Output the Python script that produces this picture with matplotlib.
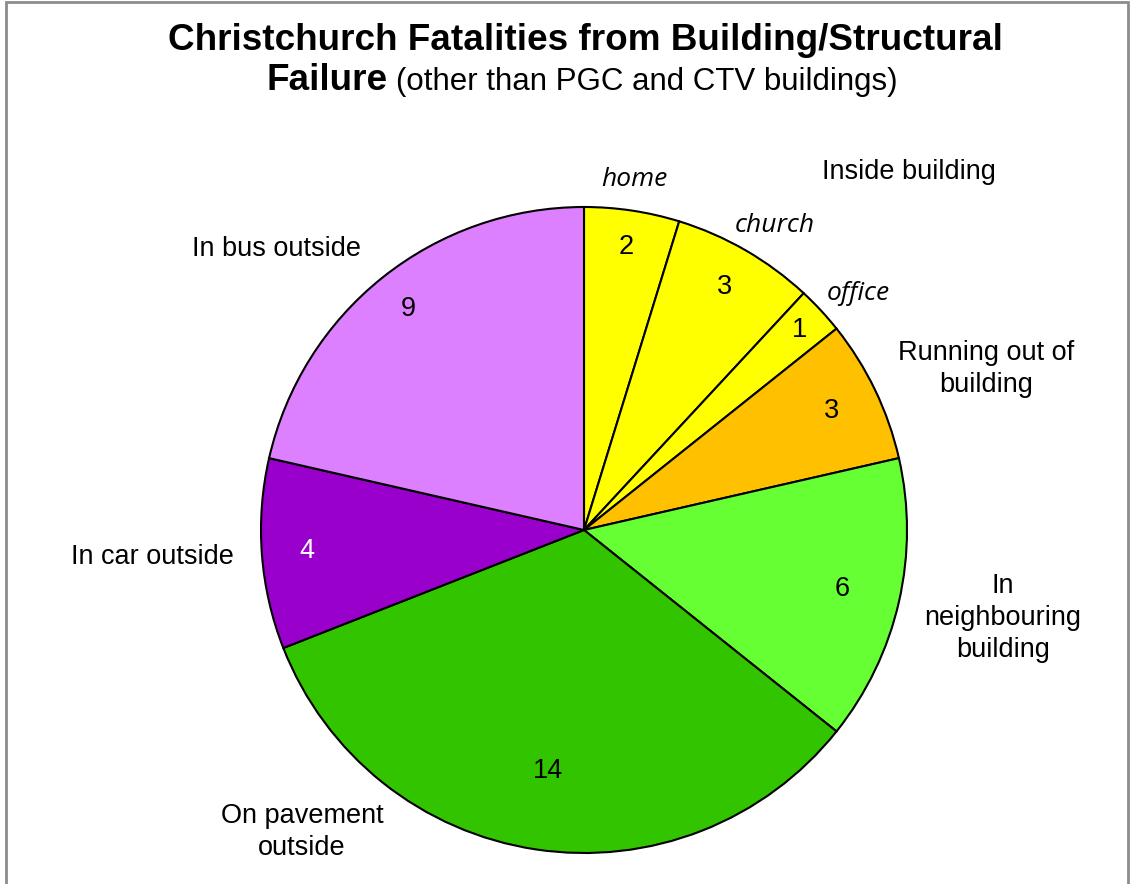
import numpy as np
import matplotlib.pyplot as plt
from matplotlib.patches import Rectangle

# fatalities by location
categories = ["home", "church", "office", "Running out of\nbuilding",
              "In\nneighbouring\nbuilding", "On pavement\noutside",
              "In car outside", "In bus outside"]
values = [2, 3, 1, 3, 6, 14, 4, 9]
colors = ["#FFFF00", "#FFFF00", "#FFFF00", "#FFC000",
          "#66FF33", "#33C400", "#9900CC", "#DD80FF"]
number_colors = ["black"] * 6 + ["white", "black"]
number_dist = [0.885, 0.87, 0.91, 0.85, 0.82, 0.755, 0.86, 0.875]

plt.rcParams["font.family"] = ["Liberation Sans", "DejaVu Sans"]

W, H = 1135, 884
fig = plt.figure(figsize=(W / 100, H / 100), dpi=100)
ax = fig.add_axes([0, 0, 1, 1])

# frame
ax.add_patch(Rectangle((6, -10), 1122, H - 2 + 10, fill=False,
                       edgecolor="#8c8c8c", linewidth=2))

cx, cy, r = 584, H - 530, 323
wedges, _ = ax.pie(values, colors=colors, startangle=90, counterclock=False,
                   center=(cx, cy), radius=r, frame=True,
                   wedgeprops=dict(edgecolor="black", linewidth=1.5))
ax.set_xlim(0, W)
ax.set_ylim(0, H)
ax.set_aspect("auto")
ax.axis("off")

# value labels at the middle of each wedge
for w, v, d, c in zip(wedges, values, number_dist, number_colors):
    ang = np.deg2rad((w.theta1 + w.theta2) / 2)
    ax.text(cx + d * r * np.cos(ang), cy + d * r * np.sin(ang), str(v),
            ha="center", va="center", fontsize=19.5, color=c)

# category labels
italic = dict(fontsize=19, style="italic", family=["Open Sans", "DejaVu Sans"],
              ha="center", va="center")
normal = dict(fontsize=19.5, ha="center", va="center", linespacing=1.28)
ax.text(634, H - 180, categories[0], **italic)
ax.text(775, H - 226, categories[1], **italic)
ax.text(858, H - 293, categories[2], **italic)
ax.text(909, H - 172, "Inside building", **normal)
ax.text(986, H - 369, categories[3], **normal)
ax.text(1003, H - 618, categories[4], **normal)
ax.text(302, H - 832, categories[5], **normal)
ax.text(152, H - 557, categories[6], **normal)
ax.text(277, H - 249, categories[7], **normal)

# title
ax.text(585, H - 41, "Christchurch Fatalities from Building/Structural",
        ha="center", va="center", fontsize=26.6, fontweight="bold")
ax.text(388, H - 81, "Failure", ha="right", va="center",
        fontsize=26.6, fontweight="bold")
ax.text(396, H - 82, "(other than PGC and CTV buildings)", ha="left",
        va="center", fontsize=22.5)

fig.savefig("out.png", dpi=100)
